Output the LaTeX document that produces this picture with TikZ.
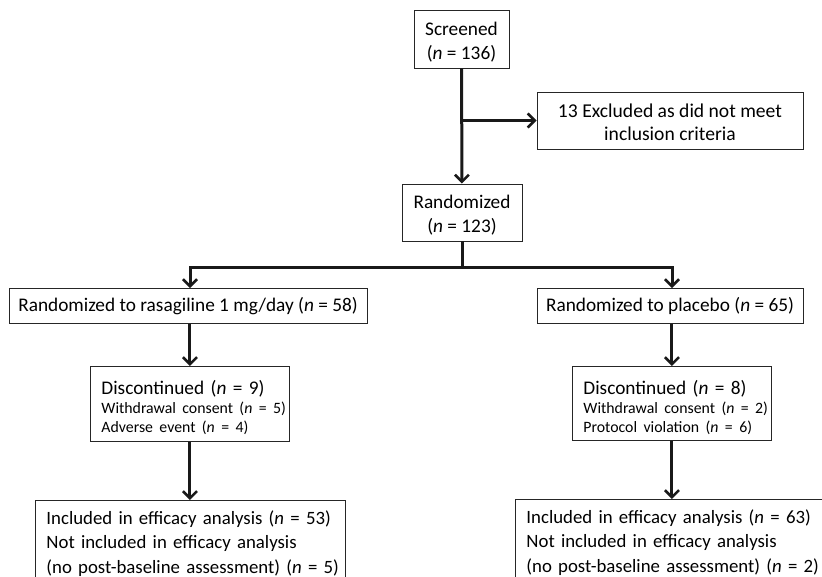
\documentclass[tikz,border=0pt]{standalone}
\usepackage{fontspec}
\setmainfont{Carlito}
\usetikzlibrary{arrows.meta,positioning,calc}

\tikzset{
  box/.style={draw=black!85, line width=0.9pt, inner sep=0pt,
    font=\fontsize{19.3}{24}\selectfont, align=center},
  leftbox/.style={box, align=left, inner xsep=11pt, inner ysep=5pt, anchor=north west},
  trunk/.style={line width=3pt, black!90},
  flow/.style={trunk, -{Straight Barb[length=7pt,width=14pt,line width=2.6pt]}},
}
\newcommand{\smalltxt}{\fontsize{15.8}{19}\selectfont}
\hfuzz=20pt

\begin{document}
\begin{tikzpicture}[x=1pt,y=-1pt]
  \useasboundingbox (0,0) rectangle (822,577);
  \clip (0,0) rectangle (822,577);
  % enrolment
  \node[box, minimum width=95, minimum height=58] (screen) at (461.5,39)
    {\rule{0pt}{19pt}Screened\\(\textit{n} = 136)};
  \node[box, minimum width=266, minimum height=57, font=\fontsize{19.6}{23}\selectfont] (excl) at (670,120.5)
    {\rule{0pt}{18pt}13 Excluded as did not meet\\inclusion criteria};
  \node[box, minimum width=120, minimum height=57] (rand) at (462,212.5)
    {\rule{0pt}{19pt}Randomized\\(\textit{n} = 123)};
  % treatment arms
  \node[box, minimum width=358, minimum height=35] (rasa) at (188,306)
    {Randomized to rasagiline 1 mg/day (\textit{n} = 58)};
  \node[box, minimum width=266, minimum height=35] (plac) at (670,306)
    {Randomized to placebo (\textit{n} = 65)};
  \node[leftbox, text width=177, minimum height=75, inner ysep=0pt] (discL) at (90,366)
    {\mbox{\rule{0pt}{22pt}Discontinued (\textit{n} = 9)}\\[-5pt]
     \mbox{\smalltxt Withdrawal consent (\textit{n} = 5)}\\[-5pt]
     \mbox{\smalltxt Adverse event (\textit{n} = 4)}};
  \node[leftbox, text width=177, minimum height=74, inner ysep=0pt] (discR) at (572,366)
    {\mbox{\rule{0pt}{22pt}Discontinued (\textit{n} = 8)}\\[-5pt]
     \mbox{\smalltxt Withdrawal consent (\textit{n} = 2)}\\[-5pt]
     \mbox{\smalltxt Protocol violation (\textit{n} = 6)}};
  % analysis
  \node[leftbox, text width=288, inner ysep=10pt, font=\fontsize{18.8}{24.5}\selectfont] (inclL) at (35,500)
    {\mbox{Included in efficacy analysis (\textit{n} = 53)}\\
     \mbox{Not included in efficacy analysis}\\
     \mbox{(no post-baseline assessment) (\textit{n} = 5)}};
  \node[leftbox, text width=300, inner ysep=10pt, font=\fontsize{18.8}{24.5}\selectfont] (inclR) at (515,499)
    {\mbox{Included in efficacy analysis (\textit{n} = 63)}\\
     \mbox{Not included in efficacy analysis}\\
     \mbox{(no post-baseline assessment) (\textit{n} = 2)}};

  % connectors
  \draw[flow] (screen) -- (rand);
  \coordinate (branch) at (screen.south |- excl.west);
  \draw[flow] (branch) -- (excl.west);
  \coordinate (split) at ($(rand.south)+(0,26)$);
  \draw[trunk] (rand.south) -- (split);
  \draw[flow] (split) -| ([xshift=2]rasa.north);
  \draw[flow] (split) -| ([xshift=2]plac.north);
  \draw[flow] (discL.north |- rasa.south) -- (discL.north);
  \draw[flow] (discR.north |- plac.south) -- (discR.north);
  \draw[flow] (discL.south) -- (discL.south |- inclL.north);
  \draw[flow] (discR.south) -- (discR.south |- inclR.north);
\end{tikzpicture}
\end{document}
